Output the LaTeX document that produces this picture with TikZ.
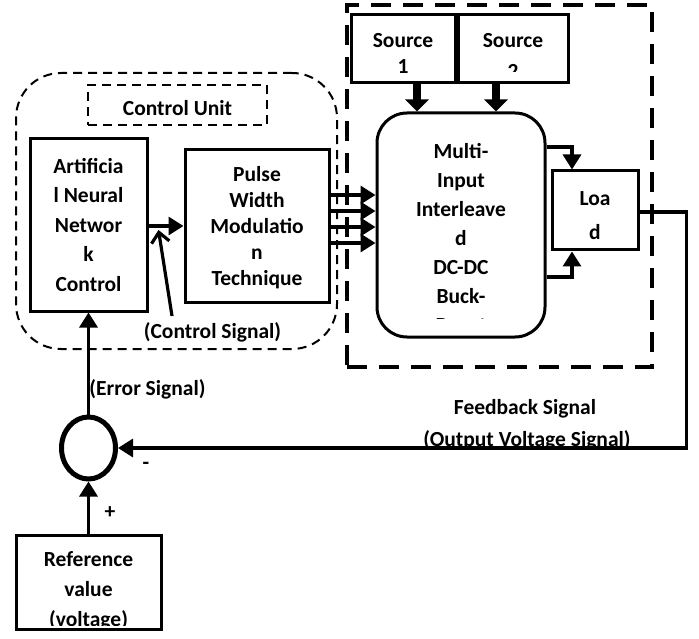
\documentclass[tikz,border=0pt]{standalone}
\usepackage{fontspec}
\setmainfont{Carlito}
\usetikzlibrary{arrows.meta,shapes.geometric,calc}
\begin{document}
\begin{tikzpicture}[x=1pt,y=1pt,
  box/.style={draw,line width=3pt,rectangle,inner sep=0pt},
  txt/.style={inner sep=0pt,align=center,font=\bfseries\fontsize{21.5}{#1}\selectfont},
  txt/.default=29,
  lbl/.style={inner sep=0pt,font=\bfseries\fontsize{21.5}{29}\selectfont},
  arr/.style={line width=3.2pt,-{Triangle[width=18pt,length=15pt]}},
  fat/.style={line width=8.5pt,-{Triangle[width=23pt,length=12pt]}},
  barb/.style={line width=3.2pt,-{Straight Barb[width=18pt,length=10pt,line width=3.2pt]}},
  thindash/.style={draw,line width=2pt,dash pattern=on 9pt off 6pt},
  thickdash/.style={draw,line width=4.5pt,dash pattern=on 20pt off 12pt}]
\useasboundingbox (0,0) rectangle (699,-639);
\fill[white] (0,0) rectangle (699,-639);

% dashed enclosures
\node[thindash,rounded corners=45pt,minimum width=321pt,minimum height=276pt,inner sep=0pt] (ctrl) at (176.5,-211) {};
\node[thindash,minimum width=179pt,minimum height=40pt,inner sep=0pt] (cu) at (177.5,-105) {};
\node[txt] (cut) at (177.5,-108) {Control Unit};
\node[thickdash,minimum width=305pt,minimum height=362pt,inner sep=0pt] (conv) at (499.5,-186) {};

% control blocks
\node[box,minimum width=117pt,minimum height=172pt] (ann) at (88.5,-225) {};
\node[txt=29.5] (annt) at (88.5,-225) {Artificia\\l Neural\\Networ\\k\\Control};
\node[box,minimum width=144pt,minimum height=152pt] (pwm) at (257,-226) {};
\node[txt=26] (pwmt) at (257,-228) {Pulse\\Width\\Modulatio\\n\\Technique};

% sources
\node[box,minimum width=104pt,minimum height=68pt] (s1) at (403,-49) {};
\begin{scope}
\clip (352,-16) rectangle (454,-81);
\node[txt=26] (s1t) at (403,-53) {Source\\1};
\end{scope}
\node[box,minimum width=110pt,minimum height=68pt] (s2) at (513,-49) {};
\begin{scope}
\clip (459,-16) rectangle (567,-71.5);
\node[txt=31] (s2t) at (513,-55.5) {Source\\2};
\end{scope}

% converter
\node[draw,line width=3pt,rounded corners=30pt,minimum width=168pt,minimum height=224pt,inner sep=0pt] (main) at (461,-225) {};
\begin{scope}
\clip (379,-115) rectangle (543,-318);
\node[txt=29] (maint) at (461,-238) {Multi-\\Input\\Interleave\\d\\DC-DC\\Buck-\\Boost};
\end{scope}
\node[box,minimum width=86pt,minimum height=79pt] (load) at (595,-210.5) {};
\node[txt=34] (loadt) at (595,-216) {Loa\\d};

% summing junction and reference
\node[draw,ellipse,line width=5pt,minimum width=54pt,minimum height=62pt,inner sep=0pt] (sum) at (88.5,-448) {};
\node[box,minimum width=145pt,minimum height=94pt] (ref) at (88.5,-582) {};
\begin{scope}
\clip (18,-537) rectangle (159,-625);
\node[txt=30] (reft) at (88.5,-591) {Reference\\value\\(voltage)};
\end{scope}

% labels
\node[lbl] (csl) at (212.5,-332) {(Control Signal)};
\node[lbl] (esl) at (147.5,-389) {(Error Signal)};
\node[lbl] (fb1) at (525,-409) {Feedback Signal};
\node[lbl] (fb2) at (527,-440) {(Output Voltage Signal)};
\node[lbl] (minus) at (146,-466) {-};
\node[lbl] (plus) at (110,-513) {+};

% connectors
\coordinate (a1) at ($(s1.south)+(14,0)$);
\coordinate (a2) at ($(s2.south)+(-17,0)$);
\draw[fat] (a1) -- (a1 |- main.north);
\draw[fat] (a2) -- (a2 |- main.north);
\coordinate (lt) at ($(load.north)+(-23,0)$);
\coordinate (lb) at ($(load.south)+(-23,0)$);
\coordinate (mt) at ($(main.east)+(0,78)$);
\coordinate (mb) at ($(main.east)+(0,-52)$);
\draw[arr] (mt) -| (lt);
\draw[arr] (mb) -| (lb);
\coordinate (lo) at ($(load.east)+(0,-1.5)$);
\draw[arr] (lo) -- ++(47,0) |- (sum.east);
\foreach \d [count=\i] in {31,15,-1,-17}{
  \coordinate (po\i) at ($(pwm.east)+(0,\d)$);
  \draw[arr] (po\i) -- (po\i -| main.west);
}
\coordinate (ao) at ($(ann.east)+(0,-1)$);
\draw[arr] (ao) -- (pwm.west);
\coordinate (cstail) at (172,-316);
\coordinate (cstip) at (158.5,-230);
\draw[barb] (cstail) -- (cstip);
\draw[arr] (sum.north) -- (ann.south);
\draw[arr] (ref.north) -- (sum.south);
\end{tikzpicture}
\end{document}
